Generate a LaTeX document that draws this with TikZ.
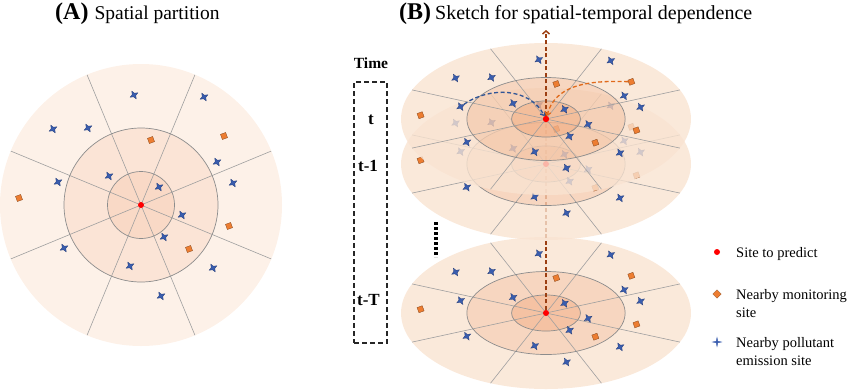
\documentclass[tikz,border=0pt]{standalone}
\usepackage{fontspec}
\setmainfont{Liberation Serif}
\usetikzlibrary{shapes.geometric,arrows.meta}

\definecolor{zoneAout}{HTML}{FDF1E8}
\definecolor{zoneAmid}{HTML}{FBE4D6}
\definecolor{zoneAin}{HTML}{F9D9C6}
\definecolor{zoneBout}{HTML}{F9E3D1}
\definecolor{zoneBmid}{HTML}{F5CCB0}
\definecolor{zoneBin}{HTML}{F2B38C}
\definecolor{emitblue}{HTML}{3A5DAE}
\definecolor{monorange}{HTML}{ED7D31}
\definecolor{flowblue}{HTML}{2F5597}
\definecolor{floworange}{HTML}{E06A1B}
\definecolor{axisbrown}{HTML}{9C3F12}

\tikzset{
  spoke/.style={draw=gray!75, line width=0.6pt},
  ringline/.style={draw=gray!90, line width=0.7pt},
  emit/.style={star, star points=4, star point ratio=2.4, minimum size=9pt, inner sep=0pt,
    fill=emitblue, draw=emitblue!70!black, line width=0.3pt, rotate=30},
  monit/.style={rectangle, minimum size=5.5pt, inner sep=0pt,
    fill=monorange, draw=monorange!55!black, line width=0.3pt, rotate=20},
  target/.style={circle, fill=red, inner sep=0pt, minimum size=6pt},
  timelab/.style={anchor=base, inner sep=0pt, font=\fontsize{17}{20}\selectfont\bfseries},
  legtext/.style={inner sep=0pt, align=left, font=\fontsize{14.5}{18}\selectfont},
  flow/.style={dashed, line width=1.3pt, dash pattern=on 4pt off 2.5pt},
}

% sites, relative to the site to predict
\newcommand{\emitsites}{-7/-110, 63/-108, -88/-76, -53/-77, 76/-43, -32/-29, -83/-23, 92/-22,
  18/-18, 41/10, 23/32, -77/43, -11/61, 72/63, 20/91}
\newcommand{\monsites}{10/-65, 83/-69, -122/-7, 88/21, 48/44}

% one partitioned disk, #1 = prefix of the node names
\newcommand{\zonedisk}[1]{%
  \fill[zone out, even odd rule] (0,0) circle (141) (0,0) circle (77);
  \fill[zone mid, even odd rule] (0,0) circle (77) (0,0) circle (33.5);
  \fill[zone in] (0,0) circle (33.5);
  \foreach \a in {22.5,67.5,112.5,157.5}
    \draw[spoke] (\a:141) -- (\a+180:141);
  \draw[ringline] (0,0) circle (77) (0,0) circle (33.5);
  \foreach \x/\y [count=\i] in \emitsites
    \node[emit] (#1-b\i) at (\x,\y) {};
  \foreach \x/\y [count=\i] in \monsites
    \node[monit] (#1-o\i) at (\x,\y) {};
  \node[target] (#1-c) at (0,0) {};
}

\begin{document}
\begin{tikzpicture}[x=1pt,y=-1pt]
\useasboundingbox (0,0) rectangle (850,389);

% titles
\node[anchor=base west, inner sep=0pt] (titleA) at (55,19.5)
  {{\fontsize{24}{28}\selectfont\bfseries (A)}\hspace{6pt}{\fontsize{19.5}{23}\selectfont Spatial partition}};
\node[anchor=base west, inner sep=0pt] (titleB) at (399,19.5)
  {{\fontsize{24}{28}\selectfont\bfseries (B)}\hspace{4pt}{\fontsize{20}{23}\selectfont Sketch for spatial-temporal dependence}};

% (A) spatial partition
\begin{scope}[shift={(141,205)},
  zone out/.style={fill=zoneAout}, zone mid/.style={fill=zoneAmid}, zone in/.style={fill=zoneAin}]
  \zonedisk{A}
\end{scope}

% (B) time axis
\node[draw=gray!30!black, line width=1.1pt, dash pattern=on 5pt off 3pt,
  minimum width=33pt, minimum height=261pt, inner sep=0pt] (timebox) at (370.5,212.5) {};
\node[timelab, font=\fontsize{15.5}{18}\selectfont\bfseries] (ltime) at (371,68) {Time};
\node[timelab] (lt) at (371,124) {t};
\node[timelab] (lt1) at (368,171) {t-1};
\node[timelab] (ltT) at (368.5,305) {t-T};
\coordinate (dotstop) at (436,222);
\coordinate (dotsbot) at (436,257);
\draw[line width=3.2pt, dash pattern=on 3pt off 2pt] (dotstop) -- (dotsbot);

% (B) layers, lowest first
\tikzset{zone out/.style={fill=zoneBout, fill opacity=0.8},
  zone mid/.style={fill=zoneBmid, fill opacity=0.8},
  zone in/.style={fill=zoneBin, fill opacity=0.8}}
\begin{scope}[shift={(546,313)}, xscale=1.028, yscale=0.539]
  \zonedisk{tT}
\end{scope}
\coordinate (axis-t) at (546,119);
\draw[flow, axisbrown, line width=1.5pt] (tT-c) -- (axis-t);
\begin{scope}[shift={(546,164)}, xscale=1.028, yscale=0.539]
  \zonedisk{t1}
\end{scope}
\begin{scope}[shift={(546,119)}, xscale=1.028, yscale=0.539]
  \zonedisk{t}
\end{scope}

% dependence arrows
\coordinate (uptip) at (546,30);
\draw[flow, axisbrown, line width=1.5pt, -{Straight Barb[length=3pt,width=7pt]}] (t-c) -- (uptip);
\draw[flow, flowblue, -{Straight Barb[length=3pt,width=6pt]}]
  (t-b7) .. controls (490,86) and (530,88) .. (t-c);
\draw[flow, floworange, -{Straight Barb[length=3pt,width=6pt]}]
  (t-o2) .. controls (585,80) and (555,86) .. (t-c);
\node[target] (t-c2) at (t-c) {};

% legend
\node[target] (kpred) at (717,252) {};
\node[legtext, anchor=base west] (kpredtxt) at (736,257) {Site to predict};
\node[monit, rotate=25, minimum size=6pt] (kmon) at (717,294) {};
\node[legtext, anchor=north west] (kmontxt) at (736,289) {Nearby monitoring\\site};
\node[star, star points=4, star point ratio=4, minimum size=9pt, inner sep=0pt,
  fill=emitblue, draw=emitblue] (kemit) at (717,342) {};
\node[legtext, anchor=north west] (kemittxt) at (736,337) {Nearby pollutant\\emission site};
\end{tikzpicture}
\end{document}
